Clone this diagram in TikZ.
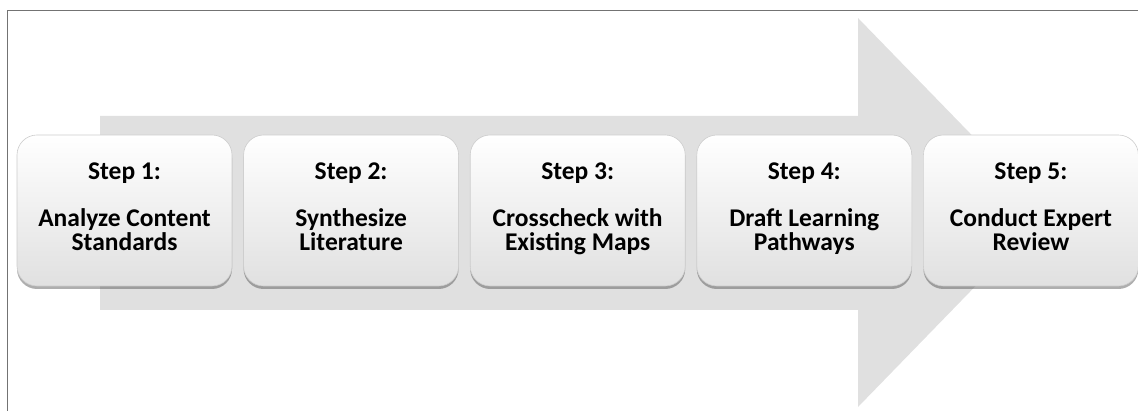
\documentclass[tikz,border=0pt]{standalone}
\usepackage{fontspec}
\setmainfont{Carlito}
\usetikzlibrary{positioning, shadows}

\begin{document}
\begin{tikzpicture}[x=1pt, y=-1pt,
    stepbox/.style={rectangle, rounded corners=20pt, draw=black!20, line width=0.6pt,
      top color=white, middle color=white, bottom color=black!12,
      minimum width=215pt, minimum height=151pt, inner sep=0pt,
      align=center, font=\fontsize{25.5}{24}\selectfont\bfseries,
      drop shadow={shadow xshift=0pt, shadow yshift=-3pt, opacity=0.45, fill=black!70}}]
      % Frame
      \useasboundingbox (0,0) rectangle (1138,411);
      \draw[black!55, line width=1pt] (7,11) rectangle (1142,416);

      % Big arrow behind the steps
      \fill[black!12] (100,116) -- (858,116) -- (858,18) -- (1047,212.5)
        -- (858,407) -- (858,310) -- (100,310) -- cycle;

      % Steps
      \node[stepbox] (s1) at (124.5,210.5) {\strut Step 1:\\[21pt]Analyze Content\\Standards\strut};
      \node[stepbox, right=11pt of s1] (s2) {\strut Step 2:\\[21pt]Synthesize\\Literature\strut};
      \node[stepbox, right=11pt of s2] (s3) {\strut Step 3:\\[21pt]Crosscheck with\\Existing Maps\strut};
      \node[stepbox, right=11pt of s3] (s4) {\strut Step 4:\\[21pt]Draft Learning\\Pathways\strut};
      \node[stepbox, right=11pt of s4] (s5) {\strut Step 5:\\[21pt]Conduct Expert\\Review\strut};
    \end{tikzpicture}
\end{document}
